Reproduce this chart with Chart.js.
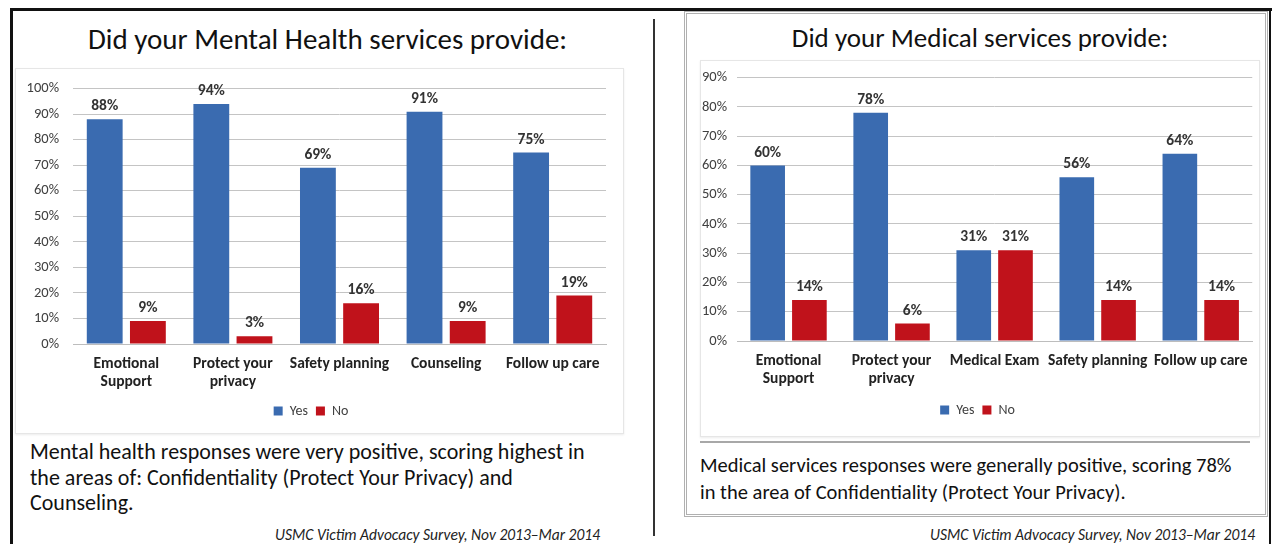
<!DOCTYPE html>
<html>
<head>
<meta charset="utf-8">
<script src="https://cdn.jsdelivr.net/npm/chart.js@4"></script>
<style>
  body { margin: 0; width: 1272px; height: 544px; background: #fff; overflow: hidden; position: relative; font-family: Carlito, Lato, sans-serif; color: #111; }
  .abs { position: absolute; }
  .frameTop { left: 10px; top: 8px; width: 1262px; height: 3px; background: #111; }
  .frameLeft { left: 10px; top: 8px; width: 3px; height: 536px; background: #111; }
  .frameRight { left: 1269px; top: 8px; width: 2px; height: 536px; background: #111; }
  .sep { left: 653px; top: 19px; width: 2px; height: 517px; background: #333; }
  .rightBox { left: 684px; top: 11px; width: 578px; height: 500px; border: 3px double #b0b0b0; }
  .chartBox { border: 1px solid #e6e6e6; box-shadow: 0 1px 2px rgba(0,0,0,0.08); }
  .title { white-space: nowrap; text-align: center; }
  .body { white-space: nowrap; }
  .foot { font-size: 15.5px; font-style: italic; white-space: nowrap; text-align: right; color: #222; }
  .hr { left: 700px; top: 441px; width: 550px; height: 2px; background: #a8a8a8; }
</style>
</head>
<body>
<div class="abs frameTop"></div>
<div class="abs frameLeft"></div>
<div class="abs frameRight"></div>
<div class="abs sep"></div>
<div class="abs rightBox"></div>

<div class="abs title" style="left:20px; top:21px; width:615px; font-size:29px;">Did your Mental Health services provide:</div>
<div class="abs title" style="left:690px; top:21px; width:580px; font-size:27px;">Did your Medical services provide:</div>

<div class="abs chartBox" style="left:15px; top:68px; width:607px; height:364px;">
  <div class="abs" style="left:0; top:-3px; width:607px; height:367px;"><canvas id="mental"></canvas></div>
</div>
<div class="abs chartBox" style="left:700px; top:60px; width:558px; height:375px;">
  <div class="abs" style="left:0; top:-2px; width:558px; height:377px;"><canvas id="medical"></canvas></div>
</div>

<div class="abs hr"></div>

<div class="abs body" style="left:30px; top:439px; font-size:22px; line-height:25.5px;">Mental health responses were very positive, scoring highest in<br>the areas of: Confidentiality (Protect Your Privacy) and<br>Counseling.</div>
<div class="abs body" style="left:700px; top:452px; font-size:20.5px; line-height:27px;">Medical services responses were generally positive, scoring 78%<br>in the area of Confidentiality (Protect Your Privacy).</div>

<div class="abs foot" style="left:200px; top:525px; width:400px;">USMC Victim Advocacy Survey, Nov 2013–Mar 2014</div>
<div class="abs foot" style="left:855px; top:525px; width:400px;">USMC Victim Advocacy Survey, Nov 2013–Mar 2014</div>

<script>
const mentalCategories = [["Emotional", "Support"], ["Protect your", "privacy"], "Safety planning", "Counseling", "Follow up care"];
const mentalYes = [88, 94, 69, 91, 75];
const mentalNo = [9, 3, 16, 9, 19];

const medicalCategories = [["Emotional", "Support"], ["Protect your", "privacy"], "Medical Exam", "Safety planning", "Follow up care"];
const medicalYes = [60, 78, 31, 56, 64];
const medicalNo = [14, 6, 31, 14, 14];

const seriesNames = ["Yes", "No"];
const blue = "#3a6bb0";
const red = "#c0121b";
const fontFam = "Carlito, Lato, sans-serif";

// draws the % value above each bar
const barLabels = {
  id: "barLabels",
  afterDatasetsDraw(chart) {
    const ctx = chart.ctx;
    ctx.save();
    ctx.font = "bold 15.5px " + fontFam;
    ctx.fillStyle = "#333";
    ctx.textAlign = "center";
    ctx.textBaseline = "bottom";
    chart.data.datasets.forEach((ds, i) => {
      chart.getDatasetMeta(i).data.forEach((bar, j) => {
        ctx.fillText(ds.data[j] + "%", bar.x, bar.y - 5);
      });
    });
    ctx.restore();
  }
};

function makeChart(id, labels, yes, no, maxY, yWidth, yPad, pad, xHeight) {
  new Chart(document.getElementById(id), {
    type: "bar",
    data: {
      labels,
      datasets: [
        { label: seriesNames[0], data: yes, backgroundColor: blue },
        { label: seriesNames[1], data: no, backgroundColor: red }
      ]
    },
    options: {
      responsive: true,
      maintainAspectRatio: false,
      animation: false,
      layout: { padding: pad },
      datasets: { bar: { categoryPercentage: 0.81, barPercentage: 0.83 } },
      plugins: {
        tooltip: { enabled: false },
        legend: {
          position: "bottom",
          labels: { boxWidth: 9, boxHeight: 9, padding: 8, color: "#404040", font: { size: 14, family: fontFam } }
        }
      },
      scales: {
        x: {
          grid: { display: false, drawTicks: false },
          border: { color: "#bdbdbd" },
          ticks: { color: "#222", maxRotation: 0, autoSkip: false, padding: 11, font: { size: 15.5, weight: "bold", family: fontFam, lineHeight: 1.17 } },
          afterFit(scale) { scale.height = xHeight; }
        },
        y: {
          min: 0,
          max: maxY,
          grid: { color: "#c4c4c4", drawTicks: false },
          border: { display: false },
          ticks: { stepSize: 10, padding: yPad, color: "#404040", font: { size: 14.5, family: fontFam }, callback: v => v + "%" },
          afterFit(scale) { scale.width = yWidth; }
        }
      }
    },
    plugins: [barLabels]
  });
}

makeChart("mental", mentalCategories, mentalYes, mentalNo, 100, 57, 14, { top: 14, right: 17, left: 0, bottom: 5 }, 52);
makeChart("medical", medicalCategories, medicalYes, medicalNo, 90, 36, 10, { top: 8, right: 5, left: 0, bottom: 9 }, 54);
</script>
</body>
</html>
